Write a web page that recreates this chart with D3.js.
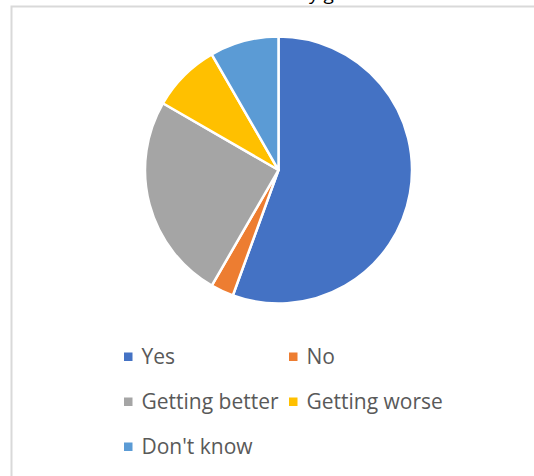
<!DOCTYPE html>
<html>
<head>
<meta charset="utf-8">
<script src="https://cdn.jsdelivr.net/npm/d3@7"></script>
<style>
  html, body { margin: 0; padding: 0; background: #ffffff; }
  svg { display: block; }
</style>
</head>
<body>
<svg id="chart" width="534" height="476"></svg>
<script>
const title = "Is the situation better by gender";
const categories = ["Yes", "No", "Getting better", "Getting worse", "Don't know"];
const values = [20, 1, 9, 3, 3];
const colors = ["#4472C4", "#ED7D31", "#A5A5A5", "#FFC000", "#5B9BD5"];

const svg = d3.select("#chart");
const W = 534, H = 476;
const font = "'Open Sans', 'Noto Sans', sans-serif";

// chart area border (extends past the window on right and bottom)
svg.append("rect")
  .attr("x", 11.5).attr("y", 6.5)
  .attr("width", W + 20).attr("height", H + 20)
  .attr("fill", "#ffffff")
  .attr("stroke", "#d9d9d9").attr("stroke-width", 2);

// title (mostly above the visible area, as in the reference)
const t = svg.append("text")
  .attr("y", -0.5)
  .attr("font-family", font)
  .attr("font-size", 19)
  .attr("fill", "#000000")
  .text(title);
const yIdx = title.indexOf("by") + 1;
const off = t.node().getStartPositionOfChar(yIdx).x;
t.attr("x", 309 - off);

// pie
const cx = 278.5, cy = 170, r = 133.5;
const pie = d3.pie().sort(null).value(d => d.v);
const arc = d3.arc().innerRadius(0).outerRadius(r);
const data = categories.map((c, i) => ({ c, v: values[i] }));
const color = d3.scaleOrdinal().domain(categories).range(colors);

svg.append("g")
  .attr("transform", `translate(${cx},${cy})`)
  .selectAll("path")
  .data(pie(data))
  .join("path")
  .attr("d", arc)
  .attr("fill", d => color(d.data.c))
  .attr("stroke", "#ffffff")
  .attr("stroke-width", 2.5)
  .attr("stroke-linejoin", "round");

// legend
const colX = [124, 289];
const rowY = [364, 409, 454];
const leg = svg.append("g");
data.forEach((d, i) => {
  const col = i % 2, row = Math.floor(i / 2);
  const x = colX[col], y = rowY[row];
  leg.append("rect")
    .attr("x", x).attr("y", y - 11.5)
    .attr("width", 8.5).attr("height", 8.5)
    .attr("fill", color(d.c));
  leg.append("text")
    .attr("x", x + 17.5).attr("y", y)
    .attr("font-family", font)
    .attr("font-size", 21)
    .attr("fill", "#595959")
    .text(d.c);
});
</script>
</body>
</html>
